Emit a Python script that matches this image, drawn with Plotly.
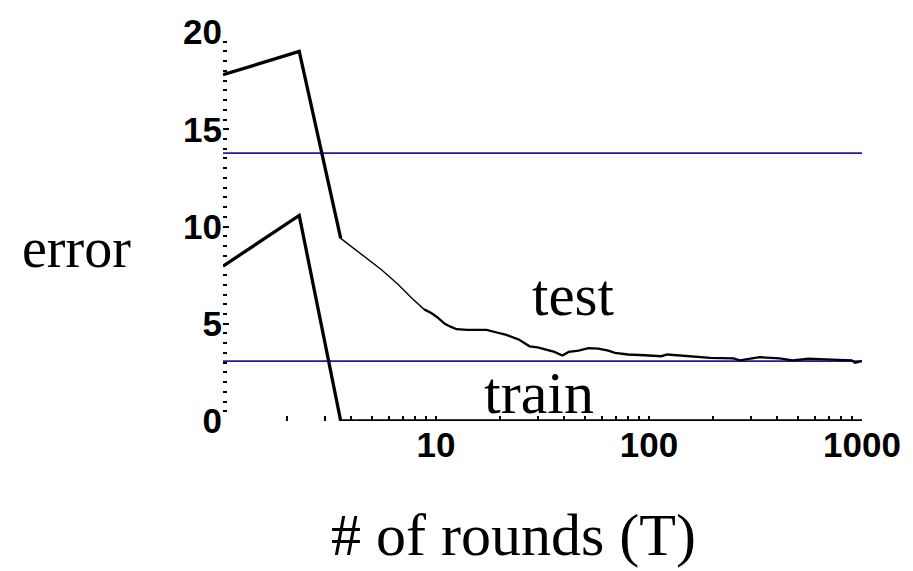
import plotly.graph_objects as go

# ---- data ----
test_head_x = [1, 2.28, 3.57]
test_head_y = [17.8, 19.0, 9.39]

test_mid_x = [3.57, 4.47, 5.53, 6.61, 7.62, 8.79]
test_mid_y = [9.39, 8.55, 7.79, 7.04, 6.36, 5.74]

test_tail_x = [8.79, 9.5, 10.1, 11.0, 11.7, 12.5, 14.0, 17.3, 19.3, 21.4, 24.6, 27.5,
               30.0, 32.8, 36.0, 39.2, 42.0, 46.7, 52.0, 57.9, 64.4, 69.2, 79.7, 95.2,
               114, 122, 151, 194, 249, 267, 331, 409, 472, 560, 673, 780, 895, 927, 1000]
test_tail_y = [5.74, 5.55, 5.35, 5.0, 4.85, 4.72, 4.68, 4.68, 4.55, 4.43, 4.18, 3.84,
               3.78, 3.67, 3.55, 3.37, 3.55, 3.62, 3.75, 3.72, 3.62, 3.50, 3.42, 3.38,
               3.33, 3.42, 3.33, 3.25, 3.22, 3.12, 3.28, 3.22, 3.12, 3.20, 3.17, 3.15, 3.12, 3.0, 3.08]

train_head_x = [1, 2.28, 3.57, 4.2]
train_head_y = [7.96, 10.57, 0.0, 0.0]
train_tail_x = [4.2, 1000]
train_tail_y = [0.0, 0.0]

hline_values = [13.77, 3.08]
hline_x = [1, 1000]

x_major = [10, 100, 1000]
x_major_text = ["10", "100", "1000"]
x_minor = [2, 3, 4, 5, 6, 7, 8, 9, 20, 30, 40, 50, 60, 70, 80, 90,
           200, 300, 400, 500, 600, 700, 800, 900]
y_major = [0, 5, 10, 15, 20]

BLUE = "#1c1c9c"
BLACK = "#000000"

W, H = 913, 571
# plot area in page pixels: x 223..871, y 25..421
L, T = 223, 25
R = W - 871
B = H - 421
pw, ph = W - L - R, H - T - B


def paper_x(p):
    return (p - L) / pw


def paper_y(p):
    return (H - B - p) / ph


fig = go.Figure()

for v in hline_values:
    fig.add_trace(go.Scatter(x=hline_x, y=[v, v], mode="lines",
                             line=dict(color=BLUE, width=1.6), hoverinfo="skip"))

fig.add_trace(go.Scatter(x=train_tail_x, y=train_tail_y, mode="lines",
                         line=dict(color=BLACK, width=3.6)))
fig.add_trace(go.Scatter(x=train_head_x, y=train_head_y, mode="lines",
                         line=dict(color=BLACK, width=3.3)))
fig.add_trace(go.Scatter(x=test_head_x, y=test_head_y, mode="lines",
                         line=dict(color=BLACK, width=3.3)))
fig.add_trace(go.Scatter(x=test_mid_x, y=test_mid_y, mode="lines",
                         line=dict(color=BLACK, width=1.4)))
fig.add_trace(go.Scatter(x=test_tail_x, y=test_tail_y, mode="lines",
                         line=dict(color=BLACK, width=2.3)))

tickvals = x_minor + x_major
ticktext = [""] * len(x_minor) + x_major_text

tick_font = dict(family="Liberation Sans, Arial, sans-serif", size=35, color=BLACK, weight="bold")

fig.update_xaxes(type="log", range=[0, 3], showline=False, showgrid=False, zeroline=False,
                 tickvals=tickvals, ticktext=ticktext, ticks="inside", ticklen=5,
                 tickwidth=1.5, tickcolor=BLACK, tickfont=tick_font,
                 ticklabeloverflow="allow")
fig.update_yaxes(range=[0, 20], showline=False, showgrid=False, zeroline=False,
                 tickvals=y_major, ticks="inside", ticklen=6, tickwidth=2, tickcolor=BLACK,
                 minor=dict(dtick=0.5, ticks="inside", ticklen=4, tickwidth=2, tickcolor=BLACK),
                 tickfont=tick_font, ticklabeloverflow="allow")

serif = "Liberation Serif, Times New Roman, serif"
annos = [
    ("error", 74, 245, 56),
    ("test", 578, 293, 59),
    ("train", 543, 393, 60),
    ("# of rounds (T)", 518, 537, 60),
]
for text, cx, cy, size in annos:
    fig.add_annotation(text=text, xref="paper", yref="paper", x=paper_x(cx), y=paper_y(cy),
                       xanchor="center", yanchor="middle", showarrow=False,
                       font=dict(family=serif, size=size, color=BLACK))

fig.update_layout(width=W, height=H, margin=dict(l=L, r=R, t=T, b=B),
                  plot_bgcolor="white", paper_bgcolor="white", showlegend=False)

fig.write_html("out.html")
